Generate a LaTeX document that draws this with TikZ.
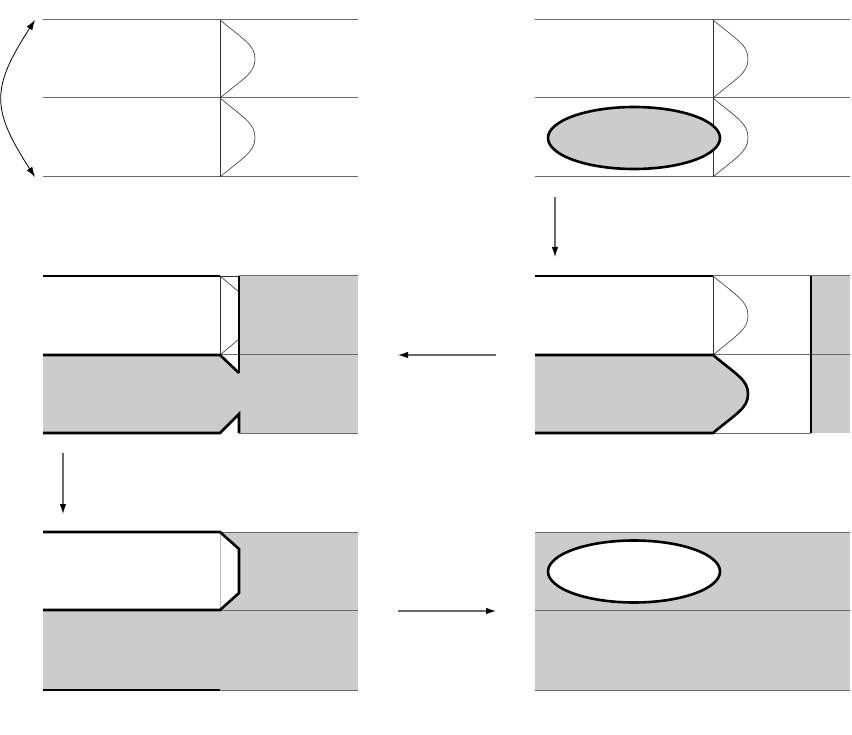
\documentclass[tikz,border=0pt]{standalone}
\usetikzlibrary{arrows.meta,shapes.geometric}
\definecolor{fillgray}{HTML}{CCCCCC}
\definecolor{linegray}{HTML}{6A6A6A}
\tikzset{
  thinline/.style={draw=linegray,line width=1pt},
  profline/.style={draw=black!80,line width=0.6pt},
  thickline/.style={draw=black,line width=2.6pt,line join=miter},
  grayfill/.style={fill=fillgray,draw=none},
  steparrow/.style={draw=linegray,line width=1.1pt,-{Latex[length=10pt,width=6.5pt,color=black]}},
}
% profile bulge from (x,ytop) to (x,ybottom), apex offset 35
\newcommand{\bulge}[3]{% x, ytop, ybottom
  (#1,#2) .. controls ({#1+24},{#2+20}) and ({#1+35},{(#2+#3)/2-14}) .. ({#1+35},{(#2+#3)/2})
  .. controls ({#1+35},{(#2+#3)/2+14}) and ({#1+24},{#3-20}) .. (#1,#3)}
\begin{document}
\begin{tikzpicture}[x=1pt,y=-1pt]
\useasboundingbox (0,0) rectangle (852,735);

% ---------------- Panel 1 (top left) ----------------
\foreach \yy in {20,98,177} \draw[thinline] (43,\yy) -- (358,\yy);
\draw[profline] (220,20) -- (220,177);
\draw[profline] \bulge{220}{20}{98};
\draw[profline] \bulge{220}{98}{177};
\coordinate (p1top) at (35,20);
\coordinate (p1bot) at (35,177);
\draw[line width=0.8pt,{Latex[length=10pt,width=6.5pt]}-{Latex[length=10pt,width=6.5pt]}]
  (p1top) .. controls (-9,88) and (-9,109) .. (p1bot);

% ---------------- Panel 2 (top right) ----------------
\foreach \yy in {20,98,177} \draw[thinline] (535,\yy) -- (850,\yy);
\draw[profline] (713,20) -- (713,177);
\draw[profline] \bulge{713}{20}{98};
\draw[profline] \bulge{713}{98}{177};
\node[ellipse,draw=black,line width=2.6pt,fill=fillgray,minimum width=172pt,minimum height=62pt,inner sep=0pt] (bubble1) at (634,138) {};

% ---------------- Panel 4 (middle right) ----------------
\path[grayfill] (535,433) -- (535,355) -- \bulge{713}{355}{433} -- cycle;
\path[grayfill] (811,276) rectangle (850,433);
\draw[thinline] (713,276) -- (850,276);
\draw[thinline] (713,355) -- (850,355);
\draw[thinline] (713,433) -- (811,433);
\draw[profline] (713,276) -- (713,355);
\draw[profline] \bulge{713}{276}{355};
\draw[thickline] (535,276) -- (713,276);
\draw[thickline] (535,355) -- \bulge{713}{355}{433} -- (535,433);
\draw[thickline] (811,276) -- (811,433);

% ---------------- Panel 3 (middle left) ----------------
\path[grayfill] (43,355) -- (220,355) -- (239,373) -- (239,276) -- (358,276) -- (358,433)
  -- (239,433) -- (239,414) -- (220,433) -- (43,433) -- cycle;
\draw[thinline] (239,276) -- (358,276);
\draw[thinline] (220,355) -- (358,355);
\draw[thinline] (239,433) -- (358,433);
\draw[profline] (220,276) -- (220,355);
\draw[profline] (220,276) -- (239,292);
\draw[profline] (239,339) -- (220,355);
\draw[profline] (220,276) -- (239,276);
\draw[thickline] (43,276) -- (220,276);
\draw[thickline] (43,355) -- (220,355) -- (239,373);
\draw[thickline] (239,276) -- (239,373);
\draw[thickline] (43,433) -- (220,433) -- (239,414) -- (239,433);

% ---------------- Panel 5 (bottom left) ----------------
\path[grayfill] (43,610) -- (220,610) -- (239,593) -- (239,549) -- (220,532) -- (358,532)
  -- (358,690) -- (43,690) -- cycle;
\draw[thinline] (220,532) -- (358,532);
\draw[thinline] (220,610) -- (358,610);
\draw[thinline] (220,690) -- (358,690);
\draw[draw=black!25,line width=0.6pt] (220,532) -- (220,610);
\draw[thickline] (43,532) -- (220,532) -- (239,549) -- (239,593) -- (220,610) -- (43,610);
\draw[thickline] (43,690) -- (220,690);

% ---------------- Panel 6 (bottom right) ----------------
\path[grayfill] (535,532) rectangle (850,690);
\foreach \yy in {532,610,690} \draw[thinline] (535,\yy) -- (850,\yy);
\node[ellipse,draw=black,line width=2.6pt,fill=white,minimum width=172pt,minimum height=62pt,inner sep=0pt] (bubble2) at (634,571.5) {};

% ---------------- Step arrows ----------------
\coordinate (a1s) at (555,197); \coordinate (a1e) at (555,257);
\coordinate (a2s) at (496,355); \coordinate (a2e) at (398,355);
\coordinate (a3s) at (63,453);  \coordinate (a3e) at (63,514);
\coordinate (a4s) at (398,611); \coordinate (a4e) at (496,611);
\draw[steparrow] (a1s) -- (a1e);
\draw[steparrow] (a2s) -- (a2e);
\draw[steparrow] (a3s) -- (a3e);
\draw[steparrow] (a4s) -- (a4e);
\end{tikzpicture}
\end{document}
